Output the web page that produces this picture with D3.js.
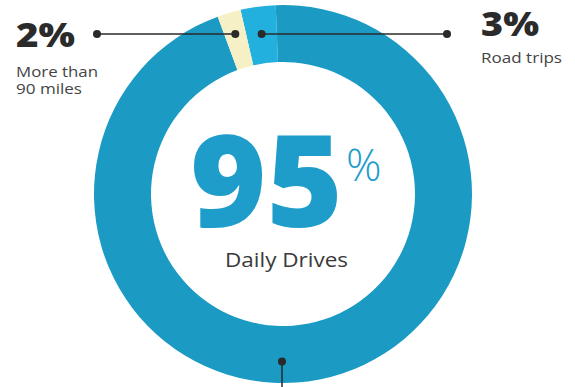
<!DOCTYPE html>
<html lang="en">
<head>
    <meta charset="UTF-8">
    <title>Daily Drives Donut</title>
    <script src="https://d3js.org/d3.v7.min.js"></script>
    <style>
        body { margin: 0; background: #fff; }
        text { font-family: "Open Sans", "Noto Sans", sans-serif; }
    </style>
</head>
<body>
    <div id="chart"></div>

    <script>
        // data, clockwise from the top gap
        var categories = ["Road trips", "Daily Drives", "More than 90 miles"];
        var shares = [3, 95, 2];
        var colors = ["#22b0de", "#1b9ac4", "#f6f0c6"];

        var width = 575, height = 387;
        var cx = 283, cy = 194;
        var outerR = 189, innerR = 132;
        var startDeg = -13;  // where the road trips slice starts

        var svg = d3.select("#chart").append("svg")
            .attr("width", width)
            .attr("height", height);

        var g = svg.append("g")
            .attr("transform", "translate(" + cx + "," + cy + ")");

        var start = startDeg * Math.PI / 180;
        var pie = d3.pie()
            .sort(null)
            .startAngle(start)
            .endAngle(start + 2 * Math.PI)
            .value(function(d) { return d; });

        var arc = d3.arc()
            .innerRadius(innerR)
            .outerRadius(outerR);

        var slices = pie(shares);

        g.selectAll("path")
            .data(slices)
            .enter()
            .append("path")
            .attr("d", arc)
            .attr("fill", function(d, i) { return colors[i]; });

        // leader lines for the two small slices
        var lineY = 34;
        function dotX(d) {
            var mid = (d.startAngle + d.endAngle) / 2;
            return cx + (cy - lineY) * Math.tan(mid);
        }

        var leaders = [
            { slice: slices[2], endX: 97 },
            { slice: slices[0], endX: 447 }
        ];

        leaders.forEach(function(l) {
            var x0 = dotX(l.slice);
            svg.append("line")
                .attr("x1", x0).attr("y1", lineY)
                .attr("x2", l.endX).attr("y2", lineY)
                .attr("stroke", "#2a2a2a")
                .attr("stroke-width", 1.5);
            svg.append("circle").attr("cx", x0).attr("cy", lineY).attr("r", 4).attr("fill", "#2a2a2a");
            svg.append("circle").attr("cx", l.endX).attr("cy", lineY).attr("r", 4).attr("fill", "#2a2a2a");
        });

        // pointer for the big slice, at the bottom of the ring
        var bottomY = cy + (innerR + outerR) / 2 + 7;
        svg.append("line")
            .attr("x1", cx - 1).attr("y1", bottomY)
            .attr("x2", cx - 1).attr("y2", height)
            .attr("stroke", "#2a2a2a")
            .attr("stroke-width", 1.5);
        svg.append("circle").attr("cx", cx - 1).attr("cy", bottomY).attr("r", 4).attr("fill", "#2a2a2a");

        // left label
        svg.append("text")
            .attr("x", 16).attr("y", 47)
            .attr("font-size", 33).attr("font-weight", 800)
            .attr("fill", "#2b2b2b")
            .attr("textLength", 59).attr("lengthAdjust", "spacingAndGlyphs")
            .text(shares[2] + "%");
        svg.append("text")
            .attr("x", 16).attr("y", 77)
            .attr("font-size", 14).attr("fill", "#444")
            .attr("textLength", 82).attr("lengthAdjust", "spacingAndGlyphs")
            .text("More than");
        svg.append("text")
            .attr("x", 16).attr("y", 94)
            .attr("font-size", 14).attr("fill", "#444")
            .attr("textLength", 66).attr("lengthAdjust", "spacingAndGlyphs")
            .text("90 miles");

        // right label
        svg.append("text")
            .attr("x", 481).attr("y", 36)
            .attr("font-size", 33).attr("font-weight", 800)
            .attr("fill", "#2b2b2b")
            .attr("textLength", 58).attr("lengthAdjust", "spacingAndGlyphs")
            .text(shares[0] + "%");
        svg.append("text")
            .attr("x", 481).attr("y", 63)
            .attr("font-size", 14).attr("fill", "#444")
            .attr("textLength", 81).attr("lengthAdjust", "spacingAndGlyphs")
            .text(categories[0]);

        // center label
        svg.append("text")
            .attr("x", 190).attr("y", 227)
            .attr("font-size", 128).attr("font-weight", 800)
            .attr("fill", "#1e9dcb")
            .attr("textLength", 153).attr("lengthAdjust", "spacingAndGlyphs")
            .text(shares[1]);
        svg.append("text")
            .attr("x", 346).attr("y", 181)
            .attr("font-size", 44).attr("font-weight", 300)
            .attr("fill", "#1e9dcb")
            .text("%");
        svg.append("text")
            .attr("x", 225).attr("y", 267)
            .attr("font-size", 20).attr("fill", "#3a3a3a")
            .attr("textLength", 123).attr("lengthAdjust", "spacingAndGlyphs")
            .text(categories[1]);
    </script>
</body>
</html>
